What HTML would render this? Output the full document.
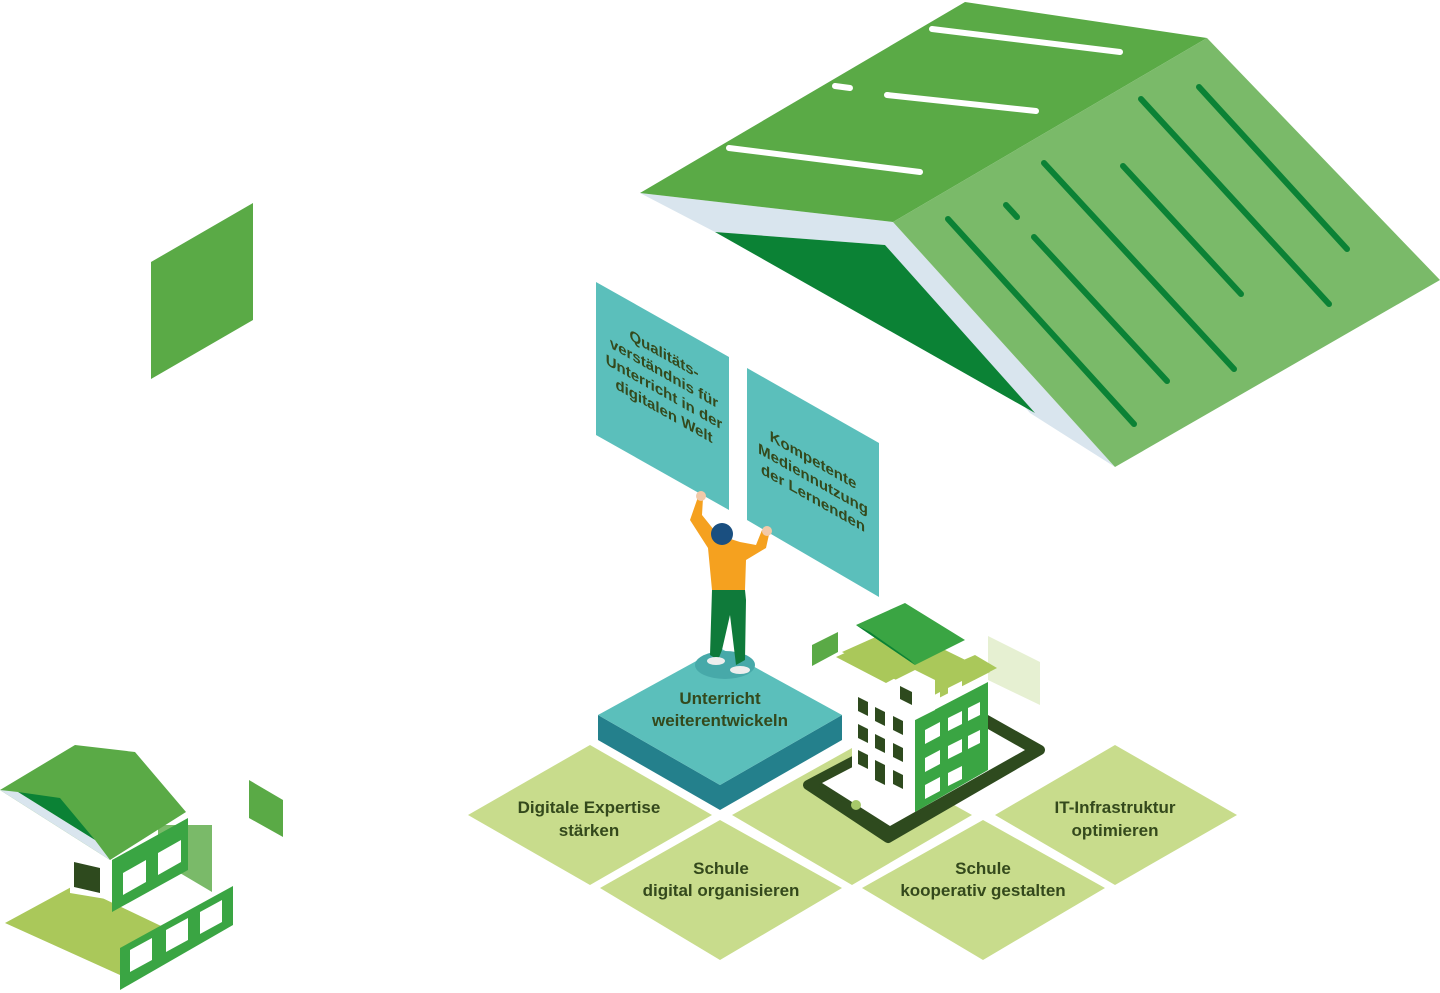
<!DOCTYPE html>
<html><head><meta charset="utf-8"><style>
html,body{margin:0;padding:0;background:#fff;}
svg{display:block}
.t{font-family:"Liberation Sans Narrow","Liberation Sans",sans-serif;font-weight:bold;fill:#34491c;text-anchor:middle}
</style></head><body>
<svg width="1440" height="993" viewBox="0 0 1440 993" xmlns="http://www.w3.org/2000/svg">
<!-- big roof -->
<polygon points="640,193 893,222 1115,467 1030,413 885,245 715,232" fill="#d9e5ee"/>
<polygon points="715,232 885,245 1035,413" fill="#0b8235"/>
<polygon points="640,193 965,2 1207,38 893,222" fill="#5aaa46"/>
<polygon points="893,222 1207,38 1440,280 1115,467" fill="#7aba69"/>
<g stroke="#fff" stroke-width="6" stroke-linecap="round">
<line x1="932" y1="29" x2="1120" y2="52"/><line x1="887" y1="95" x2="1036" y2="111"/>
<line x1="835" y1="86" x2="850" y2="88"/><line x1="729" y1="148" x2="920" y2="172"/>
</g>
<g stroke="#0b8235" stroke-width="6" stroke-linecap="round">
<line x1="948" y1="219" x2="1134" y2="424"/><line x1="1034" y1="237" x2="1167" y2="381"/>
<line x1="1006" y1="205" x2="1017" y2="217"/><line x1="1044" y1="163" x2="1234" y2="369"/>
<line x1="1123" y1="166" x2="1241" y2="294"/><line x1="1141" y1="99" x2="1329" y2="304"/>
<line x1="1199" y1="87" x2="1347" y2="249"/>
</g>
<!-- left green square -->
<polygon points="151,262 253,203 253,320 151,379" fill="#5aaa46"/>
<!-- diamonds -->
<polygon points="468,815 590,745 712,815 590,885" fill="#c8dc8c"/>
<polygon points="732,815 852,748 972,815 852,885" fill="#c8dc8c"/>
<polygon points="600,888 720,820 842,888 720,960" fill="#c8dc8c"/>
<polygon points="862,888 983,820 1105,888 983,960" fill="#c8dc8c"/>
<polygon points="995,815 1115,745 1237,815 1115,885" fill="#c8dc8c"/>
<!-- teal block -->
<polygon points="598,715 720,785 720,810 598,740" fill="#24808c"/>
<polygon points="720,785 842,715 842,740 720,810" fill="#24808c"/>
<polygon points="598,715 720,648 842,715 720,785" fill="#5bbfbb"/>
<ellipse cx="725" cy="665" rx="30" ry="14" fill="#47a9a9"/>
<text class="t" font-size="17"><tspan x="720" y="704">Unterricht</tspan><tspan x="720" y="726">weiterentwickeln</tspan></text>
<text class="t" font-size="17"><tspan x="589" y="813">Digitale Expertise</tspan><tspan x="589" y="836">stärken</tspan></text>
<text class="t" font-size="17"><tspan x="721" y="874">Schule</tspan><tspan x="721" y="896">digital organisieren</tspan></text>
<text class="t" font-size="17"><tspan x="983" y="874">Schule</tspan><tspan x="983" y="896">kooperativ gestalten</tspan></text>
<text class="t" font-size="17"><tspan x="1115" y="813">IT-Infrastruktur</tspan><tspan x="1115" y="836">optimieren</tspan></text>
<!-- panels -->
<polygon points="596,282 729,357 729,510 596,435" fill="#5bbfbb"/>
<polygon points="747,368 879,443 879,597 747,520" fill="#5bbfbb"/>
<g transform="translate(664,398) matrix(1,0.564,0,1,0,0)">
<text class="t" font-size="15" style="font-family:'Liberation Sans',sans-serif"><tspan x="0" y="-39">Qualitäts-</tspan><tspan x="0" y="-20">verständnis für</tspan><tspan x="0" y="-1">Unterricht in der</tspan><tspan x="0" y="18">digitalen Welt</tspan></text>
</g>
<g transform="translate(813,484) matrix(1,0.564,0,1,0,0)">
<text class="t" font-size="15" style="font-family:'Liberation Sans',sans-serif"><tspan x="0" y="-19">Kompetente</tspan><tspan x="0" y="0">Mediennutzung</tspan><tspan x="0" y="19">der Lernenden</tspan></text>
</g>
<!-- person -->
<path d="M698,497 L690,520 L708,548 L712,590 L745,590 L746,560 L766,548 L770,530 L762,530 L756,545 L740,542 L718,535 L702,515 L703,498 Z" fill="#f5a11f"/>
<polygon points="712,590 745,590 746,600 745,660 736,665 730,615 722,650 718,660 710,655" fill="#0f7a3a"/>
<circle cx="722" cy="534" r="11" fill="#1a4f80"/>
<ellipse cx="716" cy="661" rx="9" ry="4" fill="#eee"/><ellipse cx="740" cy="670" rx="10" ry="4" fill="#eee"/>
<circle cx="701" cy="496" r="5" fill="#f2c9a8"/><circle cx="767" cy="531" r="5" fill="#f2c9a8"/>
<!-- phone -->
<polygon points="808,785 960,705 1040,750 888,838" fill="#2e4a1e" stroke="#2e4a1e" stroke-width="10" stroke-linejoin="round"/>
<polygon points="822,783 958,712 1025,750 890,826" fill="#fff"/>
<circle cx="856" cy="805" r="5" fill="#a6c86a"/>
<!-- floating pieces -->
<polygon points="812,645 838,632 838,652 812,666" fill="#5aaa46"/>
<polygon points="836,657 880,637 930,660 886,683" fill="#aac85a"/>
<polygon points="988,636 1040,662 1040,705 988,680" fill="#e6f0d2"/>
<polygon points="952,665 975,655 997,668 974,680" fill="#aac85a"/>
<!-- building -->
<polygon points="852,685 915,720 915,812 852,778" fill="#fff"/>
<polygon points="915,720 988,682 988,770 915,812" fill="#3aa543"/>
<polygon points="842,652 898,627 990,672 935,700" fill="#aac85a"/>
<polygon points="895,680 915,670 935,680 935,710 915,720 895,710" fill="#fff"/>
<g fill="#2e4a1e">
<polygon points="858,697 868,702 868,716 858,711"/><polygon points="875,707 885,712 885,726 875,721"/><polygon points="893,716 903,721 903,735 893,730"/>
<polygon points="858,724 868,729 868,743 858,738"/><polygon points="875,734 885,739 885,753 875,748"/><polygon points="893,743 903,748 903,762 893,757"/>
<polygon points="858,750 868,755 868,769 858,764"/><polygon points="875,760 885,765 885,785 875,780"/><polygon points="893,770 903,775 903,789 893,784"/>
<polygon points="900,686 912,692 912,705 900,699"/>
</g>
<g fill="#fff">
<polygon points="925,700 940,692 940,706 925,714"/><polygon points="948,688 962,681 962,694 948,701"/>
<polygon points="925,730 940,722 940,736 925,744"/><polygon points="948,718 962,711 962,724 948,731"/><polygon points="968,708 980,702 980,715 968,721"/>
<polygon points="925,758 940,750 940,764 925,772"/><polygon points="948,746 962,739 962,752 948,759"/><polygon points="968,736 980,730 980,743 968,749"/>
<polygon points="925,785 940,777 940,791 925,799"/><polygon points="948,773 962,766 962,779 948,786"/>
</g>
<polygon points="856,625 905,603 965,640 915,665" fill="#3aa543"/>
<polygon points="856,625 915,665 910,660 870,632" fill="#0b8235"/>
<!-- small house bottom left -->
<polygon points="5,923 75,885 180,935 120,975" fill="#aac85a"/>
<polygon points="120,948 233,886 233,925 120,990" fill="#3aa543"/>
<g fill="#fff"><polygon points="130,950 152,938 152,960 130,972"/><polygon points="166,930 188,918 188,940 166,952"/><polygon points="200,912 222,900 222,922 200,934"/></g>
<polygon points="158,825 212,825 212,892 158,860" fill="#7aba69"/>
<polygon points="70,860 112,838 112,900 70,893" fill="#fff"/>
<polygon points="74,862 100,868 100,893 74,887" fill="#2e4a1e"/>
<polygon points="112,860 188,818 188,870 112,912" fill="#3aa543"/>
<g fill="#fff"><polygon points="123,873 146,860 146,882 123,895"/><polygon points="158,853 181,840 181,862 158,875"/></g>
<polygon points="0,790 75,745 135,752 186,812 110,860" fill="#5aaa46"/>
<polygon points="18,792 60,798 95,840" fill="#0b8235"/>
<polygon points="0,790 18,792 95,840 110,860" fill="#d9e5ee"/>
<polygon points="249,780 283,800 283,837 249,818" fill="#5aaa46"/>
</svg>
</body></html>
